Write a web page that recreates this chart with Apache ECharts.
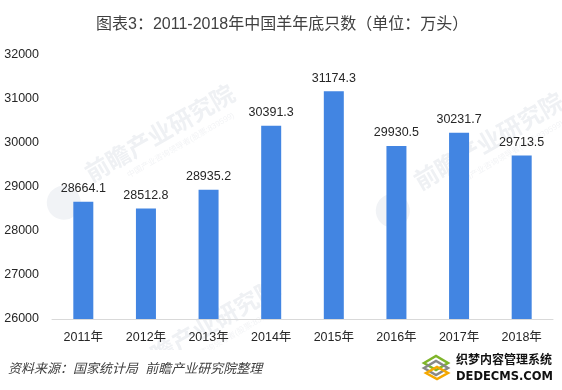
<!DOCTYPE html>
<html><head><meta charset="utf-8">
<style>html,body{margin:0;padding:0;background:#fff}#c{width:562px;height:390px}</style>
<script src="https://cdn.jsdelivr.net/npm/echarts@6/dist/echarts.min.js"></script></head>
<body><div id="c"></div>
<script>
const categories=['2011年','2012年','2013年','2014年','2015年','2016年','2017年','2018年'];
const values=[28664.1,28512.8,28935.2,30391.3,31174.3,29930.5,30231.7,29713.5];
const titleText='图表3\uFF1A2011-2018年中国羊年底只数\uFF08单位\uFF1A万头\uFF09';
const sourceText='资料来源\uFF1A国家统计局  前瞻产业研究院整理';
const font='"Liberation Sans","Noto Sans CJK SC",sans-serif';
const wmColor='#eff1f4';
function wm(x,y){return {type:'group',x:x,y:y,rotation:Math.PI/6,silent:true,z:0,children:[
 {type:'text',style:{text:'前瞻产业研究院',x:0,y:0,fill:wmColor,font:'bold 24px '+font,align:'center',verticalAlign:'middle'}},
 {type:'text',style:{text:'中国产业咨询领导者(股票:839599)',x:12,y:19,fill:'#f3f4f6',font:'8px '+font,align:'center',verticalAlign:'middle'}},
 {type:'circle',shape:{cx:-118,cy:10,r:17},style:{fill:'#f1f3f6'}}]};}
const chart=echarts.init(document.getElementById('c'),null,{renderer:'canvas'});
chart.setOption({
 animation:false,backgroundColor:'#fff',
 title:{text:titleText,left:91,top:12,textStyle:{fontFamily:font,fontWeight:'normal',fontSize:16,color:'#404040'}},
 grid:{left:52,right:9,top:55,bottom:71},
 xAxis:{type:'category',data:categories,axisLine:{lineStyle:{color:'#d9d9d9'}},axisTick:{show:false},
  axisLabel:{fontFamily:font,fontSize:12.5,color:'#262626',margin:12,interval:0}},
 yAxis:{type:'value',min:26000,max:32000,interval:1000,axisLine:{show:false},axisTick:{show:false},splitLine:{show:false},
  axisLabel:{fontFamily:font,fontSize:12.5,color:'#262626',margin:13,padding:[2,0,0,0],formatter:v=>String(v)}},
 series:[{type:'bar',data:values,barWidth:20,z:3,itemStyle:{color:'#4285e2'},
  label:{show:true,position:'top',distance:7,fontFamily:font,fontSize:12.5,color:'#262626',formatter:p=>p.value.toFixed(1)}}],
 graphic:[wm(161,135),wm(206,329),wm(490,143),
  {type:'rect',left:0,top:350,shape:{width:430,height:40},style:{fill:'#fff'},z:1,silent:true},
  {type:'text',left:8,top:363,z:2,style:{text:sourceText,fill:'#404040',font:'italic 13px '+font}},
  {type:'polygon',z:2,shape:{points:[[424,363],[436,356],[448,363],[436,370]]},style:{fill:'none',stroke:'#7fb52a',lineWidth:2.5}},
  {type:'polygon',z:2,shape:{points:[[424,368],[436,361],[448,368],[436,375]]},style:{fill:'none',stroke:'#888888',lineWidth:2.5}},
  {type:'polygon',z:2,shape:{points:[[426,373],[437,367],[448,373],[437,379]]},style:{fill:'none',stroke:'#f5a800',lineWidth:2.5}},
  {type:'text',left:456,top:355,z:2,style:{text:'织梦内容管理系统',fill:'#111111',font:'bold 12px '+font}},
  {type:'text',left:456,top:371,z:2,style:{text:'DEDECMS.COM',fill:'#111111',font:'bold 11.5px "DejaVu Sans",sans-serif'}}
 ]
});
</script></body></html>
